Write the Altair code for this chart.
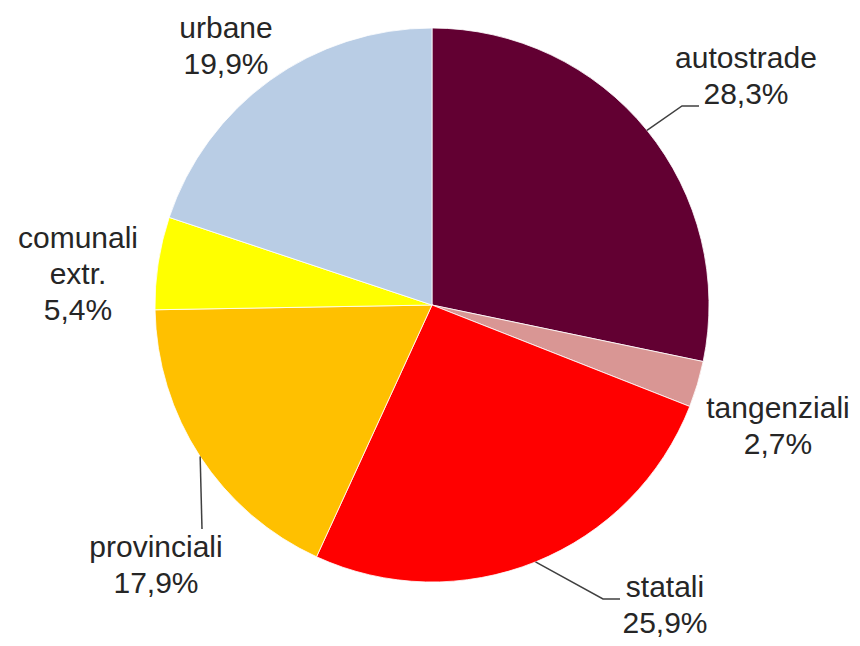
import math
import altair as alt
import pandas as pd

# ---- data ----
categories = ["autostrade", "tangenziali", "statali", "provinciali", "comunali extr.", "urbane"]
label_names = ["autostrade", "tangenziali", "statali", "provinciali", "comunali\nextr.", "urbane"]
values = [28.3, 2.7, 25.9, 17.9, 5.4, 19.9]
colors = ["#620032", "#D99694", "#FF0000", "#FFC000", "#FFFF00", "#B9CDE5"]

# ---- layout (chart pixel coords; page offset 8px) ----
CX, CY, R = 424, 297, 277
label_x = [738, 770, 657, 148, 70, 218]          # centre of text block
label_y = [60, 410, 589, 549, 240, 30]           # first baseline
# leader lines: (elbow, end) for labelled slices
leader = {
    "autostrade": [(674, 98), (691, 98)],
    "statali": [(595, 591), (612, 591)],
    "provinciali": [(194, 521)],
}

df = pd.DataFrame({"cat": categories, "value": values, "idx": list(range(len(values)))})

total = sum(values)
cum = 0.0
mids = []
for v in values:
    mids.append((cum + v / 2) / total * 2 * math.pi)
    cum += v

def fmt(v):
    return f"{v:.1f}".replace(".", ",") + "%"

lab = pd.DataFrame({
    "cat": categories,
    "text": [f"{n}\n{fmt(v)}" for n, v in zip(label_names, values)],
    "x": label_x,
    "y": label_y,
})

rows = []
for i, c in enumerate(categories):
    if c in leader:
        a = mids[i]
        sx = CX + R * math.sin(a)
        sy = CY - R * math.cos(a)
        pts = [(sx, sy)] + leader[c]
        for k, (px, py) in enumerate(pts):
            rows.append({"cat": c, "k": k, "x": px, "y": py})
lines = pd.DataFrame(rows)

pie = alt.Chart(df).mark_arc(outerRadius=R, stroke="white", strokeWidth=0.8).encode(
    theta=alt.Theta("value:Q", stack=True),
    color=alt.Color("cat:N", scale=alt.Scale(domain=categories, range=colors), legend=None),
    order=alt.Order("idx:Q"),
    x=alt.value(CX),
    y=alt.value(CY),
)

text = alt.Chart(lab).mark_text(
    lineBreak="\n", lineHeight=36, font="Liberation Sans", fontSize=30,
    color="#262626", align="center", baseline="alphabetic",
).encode(
    x=alt.X("x:Q", scale=None),
    y=alt.Y("y:Q", scale=None),
    text="text:N",
)

lead = alt.Chart(lines).mark_line(color="#404040", strokeWidth=1.5).encode(
    x=alt.X("x:Q", scale=None),
    y=alt.Y("y:Q", scale=None),
    detail="cat:N",
    order="k:Q",
)

chart = alt.layer(pie, lead, text).properties(
    width=844, height=630, padding=0, autosize=alt.AutoSizeParams(type="none")
).configure_view(stroke=None)

chart.save("out.html", embed_options={"renderer": "svg", "actions": False})
